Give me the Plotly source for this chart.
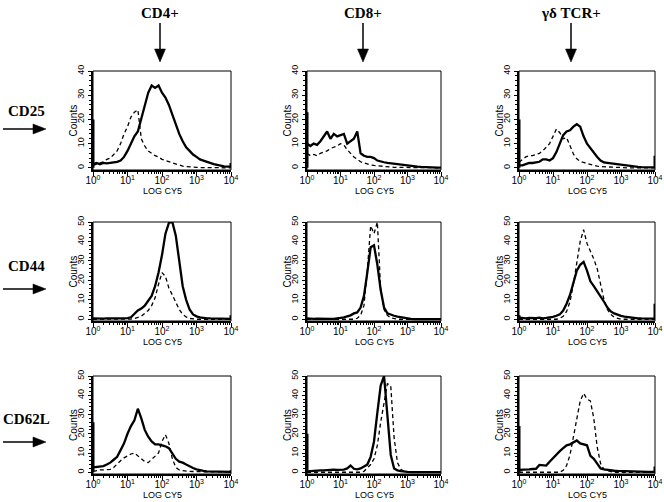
import plotly.graph_objects as go

# ---------------- data ----------------
# channel positions in decades (log10 of CY5 fluorescence)
LOG_CH = [0.0, 0.1, 0.2, 0.3, 0.4, 0.5, 0.6, 0.7, 0.8, 0.9,
          1.0, 1.1, 1.2, 1.3, 1.4, 1.5, 1.6, 1.7, 1.8, 1.9,
          2.0, 2.1, 2.2, 2.3, 2.4, 2.5, 2.6, 2.7, 2.8, 2.9,
          3.0, 3.1, 3.2, 3.3, 3.4, 3.5, 3.6, 3.7, 3.8, 3.9, 4.0]

COL_LABELS = ["CD4+", "CD8+", "γδ TCR+"]
ROW_LABELS = ["CD25", "CD44", "CD62L"]
X_TITLE = "LOG CY5"
Y_TITLE = "Counts"
X_TICK_VALUES = [1, 10, 100, 1000, 10000]
X_TICK_TEXT = ["10<sup>0</sup>", "10<sup>1</sup>", "10<sup>2</sup>", "10<sup>3</sup>", "10<sup>4</sup>"]
Y_MAX = [40, 50, 50]

# CD25 row
CD25_CD4_STAIN = [1.5, 2, 1.5, 2, 1.8, 2, 2, 2.5, 3, 4.5, 7, 10, 13, 15, 20, 26, 31, 34, 33, 34,
                  31, 29, 26, 22, 18, 14, 11, 8.5, 7, 5.5, 4.5, 3.5, 3, 2.5, 1.8, 1.5, 1.2, 0.8, 0.6, 0.5, 0.5]
CD25_CD4_CTRL = [1, 1.5, 2, 2.5, 3.5, 4, 5.5, 7, 10, 14, 17, 21, 23, 24, 12, 9, 7, 6, 5, 4.5,
                 3.5, 3, 2.5, 2, 1.5, 1, 0.7, 0.5, 0.3, 0.2, 0.2, 0.1, 0.1, 0, 0, 0, 0, 0, 0, 0, 0]
CD25_CD8_STAIN = [10, 9, 10, 9.5, 11, 13, 15, 12, 14, 13, 13.5, 14, 10, 11, 12, 15, 6, 5, 4.5, 4.5,
                  4, 3, 2.5, 2.3, 2, 1.8, 1.6, 1.4, 1.2, 1, 0.9, 0.8, 0.6, 0.5, 0.4, 0.3, 0.3, 0.2, 0.2, 0.1, 0.1]
CD25_CD8_CTRL = [6, 5, 5.5, 5, 6, 6.5, 7, 8, 8.5, 9, 10, 9.5, 7.5, 6, 4.5, 3.5, 2.5, 2, 1.5, 1.2,
                 1, 0.8, 0.6, 0.5, 0.4, 0.3, 0.2, 0.2, 0.2, 0.1, 0.1, 0.1, 0.1, 0, 0, 0, 0, 0, 0, 0, 0]
CD25_GD_STAIN = [1, 1, 1.5, 2, 2, 2.2, 2.5, 3.5, 3.5, 3, 4, 6.5, 10, 13.5, 15, 15.5, 17, 18, 17, 13,
                 10, 8, 6, 4.5, 3, 2.2, 2, 1.8, 1.5, 1.3, 1.1, 1, 0.8, 0.6, 0.5, 0.4, 0.3, 0.3, 0.2, 0.2, 0.2]
CD25_GD_CTRL = [2.3, 3.5, 4.5, 5, 5, 5.5, 6, 7, 8.5, 10, 13, 16, 14.5, 12, 12.5, 9, 5.7, 3.7, 2.7, 2.2,
                1.8, 1.3, 1, 0.7, 0.5, 0.4, 0.3, 0.2, 0.2, 0.1, 0.1, 0.1, 0, 0, 0, 0, 0, 0, 0, 0, 0]

# CD44 row
CD44_CD4_STAIN = [0.5, 0.4, 0.5, 0.3, 0.5, 0.4, 0.6, 0.4, 0.5, 0.5, 0.6, 1, 3, 4.5, 5.5, 7, 9.5, 12, 17, 24,
                  33, 44, 49.5, 50, 43, 29, 17, 10, 5, 2.5, 1.5, 1, 0.6, 0.5, 0.4, 0.4, 0.3, 0.3, 0.2, 0.2, 0.2]
CD44_CD4_CTRL = [0, 0, 0, 0, 0, 0, 0, 0, 0, 0, 0, 0.1, 0.4, 1, 1.5, 3, 4.5, 7, 11, 18,
                 24, 22, 16, 12.5, 9, 5, 2.5, 1.2, 0.4, 0.1, 0, 0, 0, 0, 0, 0, 0, 0, 0, 0, 0]
CD44_CD8_STAIN = [0.5, 0.2, 0.2, 0.3, 0.2, 0.2, 0.3, 0.2, 0.2, 0.3, 0.7, 1, 1.5, 2, 3, 3.5, 6, 12, 24, 37,
                  38, 28, 15, 6, 3, 2.2, 1.8, 1.3, 1, 0.6, 0.3, 0.2, 0.1, 0.1, 0.1, 0.1, 0.1, 0.1, 0.1, 0.1, 0.1]
CD44_CD8_CTRL = [0, 0, 0, 0, 0, 0, 0, 0, 0, 0, 0, 0, 0, 0, 0, 0.5, 2, 7, 25, 48,
                 44, 50, 15, 5, 2, 0.7, 0.3, 0, 0, 0, 0, 0, 0, 0, 0, 0, 0, 0, 0, 0, 0]
CD44_GD_STAIN = [0.8, 0.6, 0.5, 0.7, 0.5, 0.6, 0.8, 0.5, 0.7, 0.8, 1.2, 1.8, 2.5, 4.5, 8, 12.5, 19, 25, 28, 29.5,
                 25, 19.5, 17, 14.5, 12, 9, 6, 4, 3, 2.2, 1.7, 1.3, 1, 0.8, 0.6, 0.5, 0.4, 0.4, 0.3, 0.3, 0.3]
CD44_GD_CTRL = [0, 0, 0, 0, 0, 0, 0, 0, 0, 0, 0, 0, 0.5, 1.5, 4, 9, 18, 28, 40, 46,
                39, 35, 31, 26, 18, 10, 5, 2.5, 1, 0.4, 0, 0, 0, 0, 0, 0, 0, 0, 0, 0, 0]

# CD62L row
CD62L_CD4_STAIN = [2.5, 2.8, 3, 3.2, 4, 5, 6.5, 8, 11.5, 15, 20, 24, 27, 33, 28, 22, 18.5, 16, 14.5, 14.5,
                   14, 13.5, 12.5, 9.5, 7, 5.5, 5, 4, 3, 2.2, 1.5, 1, 0.7, 0.5, 0.5, 0.4, 0.3, 0.3, 0.3, 0.2, 0.2]
CD62L_CD4_CTRL = [0.5, 1, 1.2, 1.2, 1.2, 1.5, 2.5, 4, 6, 7.5, 8.5, 9.5, 10, 8.5, 7, 5.5, 5, 6.5, 8, 10,
                  16, 19.5, 15, 7, 2.5, 1.2, 0.8, 0.5, 0.5, 0.4, 0.3, 0.2, 0.2, 0.2, 0.2, 0.2, 0.2, 0.2, 0.2, 0.2, 0.2]
CD62L_CD8_STAIN = [0.5, 0.7, 0.8, 0.8, 1, 1, 1.2, 1.3, 1.4, 1.2, 1.3, 1.4, 2, 3.5, 1.8, 1.5, 2, 2.8, 4, 8,
                   16, 31, 45, 50, 30, 9, 2, 1, 0.6, 0.3, 0.2, 0.1, 0.1, 0.1, 0.1, 0.1, 0.1, 0.1, 0.1, 0.1, 0.1]
CD62L_CD8_CTRL = [0, 0, 0, 0, 0, 0, 0, 0, 0, 0, 0, 0, 0, 0, 0, 0, 0, 0.5, 2, 4,
                  7, 14, 26, 36, 46, 45, 18, 5, 1.5, 0.5, 0, 0, 0, 0, 0, 0, 0, 0, 0, 0, 0]
CD62L_GD_STAIN = [1.2, 1.2, 1.5, 1.5, 1.7, 1.8, 3.8, 3.5, 3.5, 5.5, 7.5, 9, 11, 12.5, 14, 14.5, 15.5, 16.5, 15, 14.5,
                  14, 8.5, 7, 4.5, 2, 1.5, 1.2, 1, 0.8, 0.7, 0.6, 0.5, 0.5, 0.4, 0.4, 0.3, 0.3, 0.3, 0.2, 0.2, 0.2]
CD62L_GD_CTRL = [0, 0, 0, 0, 0, 0, 0, 0, 0, 0, 0, 0, 0, 1, 3.5, 9, 19, 28, 37, 41,
                 38, 37, 28, 13, 4.5, 1.5, 0.8, 0.4, 0, 0, 0, 0, 0, 0, 0, 0, 0, 0, 0, 0, 0]

# events piled up in the first / last channel (row-major panel order)
FIRST_CHANNEL = [20, 23, 20, 0, 0, 2, 26, 20, 24]
LAST_CHANNEL = [2, 0, 5, 2, 0, 8, 1, 0, 3]

STAIN = [CD25_CD4_STAIN, CD25_CD8_STAIN, CD25_GD_STAIN,
         CD44_CD4_STAIN, CD44_CD8_STAIN, CD44_GD_STAIN,
         CD62L_CD4_STAIN, CD62L_CD8_STAIN, CD62L_GD_STAIN]
CTRL = [CD25_CD4_CTRL, CD25_CD8_CTRL, CD25_GD_CTRL,
        CD44_CD4_CTRL, CD44_CD8_CTRL, CD44_GD_CTRL,
        CD62L_CD4_CTRL, CD62L_CD8_CTRL, CD62L_GD_CTRL]

# ---------------- layout geometry (page pixels) ----------------
W, H = 664, 502
COL_PX = [(93, 231), (307, 441), (519, 655)]
ROW_PX = [(71, 170), (222, 321), (376, 474)]

def px_x(p):
    return p / W

def px_y(p):
    return 1 - p / H

X = [10 ** v for v in LOG_CH]
X_MINOR = [m * 10 ** d for d in range(4) for m in range(2, 10)]

SANS = "Liberation Sans, Arial, sans-serif"
SERIF = "Liberation Serif, Times New Roman, serif"

fig = go.Figure()
layout = dict(
    width=W, height=H, margin=dict(l=0, r=0, t=0, b=0, pad=0, autoexpand=False),
    paper_bgcolor="white", plot_bgcolor="white", showlegend=False,
    font=dict(family=SANS, color="black"),
)
shapes = []
annotations = []

for r in range(3):
    for c in range(3):
        i = r * 3 + c
        n = i + 1
        xa = "x" if n == 1 else f"x{n}"
        ya = "y" if n == 1 else f"y{n}"
        xkey = "xaxis" if n == 1 else f"xaxis{n}"
        ykey = "yaxis" if n == 1 else f"yaxis{n}"

        fig.add_trace(go.Scatter(x=X, y=CTRL[i], xaxis=xa, yaxis=ya, mode="lines",
                                 line=dict(color="black", width=1.3, dash="4px,3px")))
        fig.add_trace(go.Scatter(x=X, y=STAIN[i], xaxis=xa, yaxis=ya, mode="lines",
                                 line=dict(color="black", width=2.3)))
        if FIRST_CHANNEL[i] > 0:
            fig.add_trace(go.Scatter(x=[X[0], X[0]], y=[0, FIRST_CHANNEL[i]], xaxis=xa, yaxis=ya,
                                     mode="lines", line=dict(color="black", width=3)))
        if LAST_CHANNEL[i] > 0:
            fig.add_trace(go.Scatter(x=[X[-1], X[-1]], y=[0, LAST_CHANNEL[i]], xaxis=xa, yaxis=ya,
                                     mode="lines", line=dict(color="black", width=3)))

        x0, x1 = COL_PX[c]
        y0, y1 = ROW_PX[r]
        layout[xkey] = dict(
            domain=[px_x(x0), px_x(x1)], anchor=ya, type="log", range=[0, 4],
            automargin=False,
            showline=True, linewidth=2, linecolor="black", mirror=False,
            showgrid=False, zeroline=False,
            ticks="outside", ticklen=4, tickwidth=1, tickcolor="black",
            tickvals=X_TICK_VALUES, ticktext=X_TICK_TEXT, ticklabelstandoff=-4,
            tickfont=dict(size=10, family=SANS),
            minor=dict(ticks="outside", ticklen=2, tickwidth=1, tickcolor="black", tickvals=X_MINOR),
        )
        layout[ykey] = dict(
            domain=[px_y(y1), px_y(y0)], anchor=xa, range=[-0.9, Y_MAX[r]],
            automargin=False,
            showline=True, linewidth=2, linecolor="black", mirror=False,
            showgrid=False, zeroline=False,
            ticks="outside", ticklen=3, tickwidth=1, tickcolor="black",
            tickvals=list(range(0, Y_MAX[r] + 1, 10)), tickangle=-90,
            tickfont=dict(size=9, family=SANS),
            minor=dict(ticks="outside", ticklen=2, tickwidth=1, tickcolor="black", dtick=2),
        )
        shapes.append(dict(type="rect", xref=f"{xa} domain", yref=f"{ya} domain",
                           x0=0, x1=1, y0=0, y1=1, line=dict(color="black", width=1)))
        # axis titles
        annotations.append(dict(text=X_TITLE, xref="paper", yref="paper",
                                x=px_x((x0 + x1) / 2), y=px_y(y1 + 21),
                                xanchor="center", yanchor="middle", showarrow=False,
                                font=dict(size=9, family=SANS)))
        annotations.append(dict(text=Y_TITLE, xref="paper", yref="paper",
                                x=px_x(x0 - 20), y=px_y((y0 + y1) / 2), textangle=-90,
                                xanchor="center", yanchor="middle", showarrow=False,
                                font=dict(size=10, family=SANS)))

# column headers with downward arrows
HEAD_X = [160, 363, 571]
for c in range(3):
    annotations.append(dict(text=f"<b>{COL_LABELS[c]}</b>", xref="paper", yref="paper",
                            x=px_x(HEAD_X[c]), y=px_y(13), xanchor="center", yanchor="middle",
                            showarrow=False, font=dict(family=SERIF, size=15)))
    ax = HEAD_X[c]
    shapes.append(dict(type="line", xref="paper", yref="paper", x0=px_x(ax), x1=px_x(ax),
                       y0=px_y(23), y1=px_y(52), line=dict(color="black", width=1.5)))
    shapes.append(dict(type="path", xref="paper", yref="paper",
                       path=f"M {px_x(ax-5.5)},{px_y(49)} L {px_x(ax+5.5)},{px_y(49)} L {px_x(ax)},{px_y(62)} Z",
                       fillcolor="black", line=dict(color="black", width=0.5)))

# row labels with rightward arrows
ROW_TEXT_Y = [111, 266, 419]
ROW_ARROW_Y = [129, 289, 442]
for r in range(3):
    annotations.append(dict(text=f"<b>{ROW_LABELS[r]}</b>", xref="paper", yref="paper",
                            x=px_x(26), y=px_y(ROW_TEXT_Y[r]), xanchor="center", yanchor="middle",
                            showarrow=False, font=dict(family=SERIF, size=15)))
    ay = ROW_ARROW_Y[r]
    shapes.append(dict(type="line", xref="paper", yref="paper", x0=px_x(3), x1=px_x(36),
                       y0=px_y(ay), y1=px_y(ay), line=dict(color="black", width=1.5)))
    shapes.append(dict(type="path", xref="paper", yref="paper",
                       path=f"M {px_x(33)},{px_y(ay-5)} L {px_x(33)},{px_y(ay+5)} L {px_x(46)},{px_y(ay)} Z",
                       fillcolor="black", line=dict(color="black", width=0.5)))

layout["shapes"] = shapes
layout["annotations"] = annotations
fig.update_layout(**layout)
fig.write_html("out.html", config={"displayModeBar": False},
               post_script="document.body.style.margin='0px';")
